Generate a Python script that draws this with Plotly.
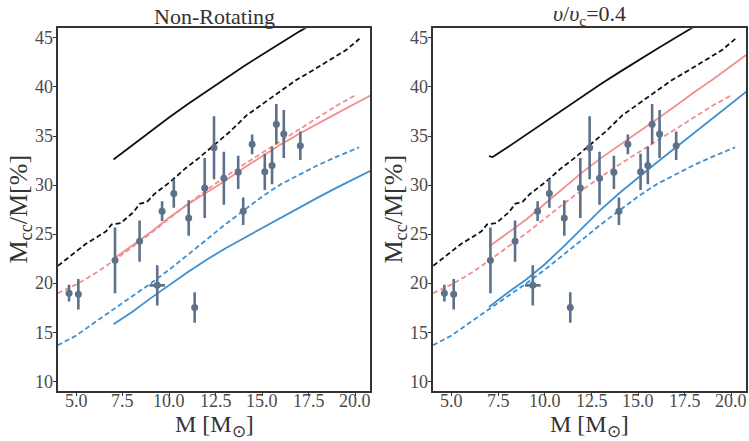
import plotly.graph_objects as go

# ---------------- data ----------------
mass_obs = [4.61, 5.11, 7.08, 8.40, 9.35, 9.61, 10.24, 11.04, 11.36, 11.90,
            12.40, 12.93, 13.70, 13.97, 14.45, 15.13, 15.52, 15.75, 16.15, 17.04]
mcc_obs = [19.0, 18.9, 22.35, 24.3, 19.8, 27.35, 29.15, 26.65, 17.55, 29.7,
           33.8, 30.7, 31.3, 27.35, 34.15, 31.35, 32.0, 36.2, 35.2, 34.0]
mcc_err = [0.85, 1.55, 3.35, 2.1, 2.05, 1.0, 1.45, 1.8, 1.55, 3.05,
           3.2, 2.7, 1.7, 1.4, 1.0, 1.85, 1.9, 2.05, 2.45, 1.45]
mass_err = [0, 0, 0, 0, 0.42, 0, 0, 0, 0, 0,
            0, 0, 0, 0, 0, 0, 0, 0, 0, 0]

# reference (dashed) curves, identical in both panels
black_dash_x = [4.02, 4.5, 5.2, 5.5, 6.1, 6.6, 6.9, 7.4, 8.1, 8.4, 8.8, 9.2, 10.06, 10.86,
                11.58, 12.29, 13.26, 14.15, 15.04, 15.93, 16.82, 17.72, 18.61, 19.5, 20.22]
black_dash_y = [21.8, 22.5, 23.6, 24.0, 24.7, 25.3, 26.0, 26.15, 27.3, 28.1, 28.3, 29.1, 30.35, 31.7,
                32.75, 33.9, 35.45, 37.1, 38.3, 39.5, 40.7, 41.7, 42.7, 43.75, 44.9]
pink_dash_x = [4.0, 5, 6, 7, 8, 9, 10, 11, 12, 13, 14, 15, 16, 17, 18, 19, 20.0]
pink_dash_y = [19.0, 19.9, 21.0, 22.3, 23.7, 25.1, 26.6, 28.1, 29.5, 30.85, 32.1, 33.3,
               34.5, 35.75, 36.95, 38.1, 39.15]
blue_dash_x = [4.0, 5, 6, 7, 8, 9, 10, 11, 12, 13, 14, 15, 16, 17, 18, 19, 20, 20.2]
blue_dash_y = [13.7, 14.7, 16.05, 17.35, 18.65, 20.0, 21.4, 22.9, 24.45, 26.0, 27.45, 28.85,
               30.1, 31.1, 32.05, 32.9, 33.7, 33.85]

# non-rotating models (solid)
solid_x = [7.0, 8, 9, 10, 11, 12, 13, 14, 15, 16, 17, 18, 19, 20, 20.9]
nr_black_y = [32.6, 34.05, 35.5, 36.9, 38.25, 39.55, 40.85, 42.1, 43.3, 44.5, 45.65, 46.75,
              47.8, 48.8, 49.7]
nr_pink_y = [22.5, 23.85, 25.2, 26.7, 28.05, 29.25, 30.45, 31.75, 32.95, 34.15, 35.25, 36.3,
             37.3, 38.3, 39.2]
nr_blue_y = [15.85, 17.1, 18.5, 19.85, 21.15, 22.4, 23.55, 24.6, 25.65, 26.7, 27.75, 28.75,
             29.75, 30.7, 31.55]

# rotating models v/vc = 0.4 (solid)
rot_black_x = [7.0, 7.2, 8, 9, 10, 11, 12, 13, 14, 15, 16, 17, 18, 19]
rot_black_y = [32.95, 32.85, 33.85, 35.15, 36.45, 37.75, 39.05, 40.3, 41.5, 42.7, 43.85,
               45.0, 46.15, 47.25]
rot_pink_y = [23.75, 25.1, 26.5, 28.1, 29.7, 31.3, 32.75, 34.05, 35.35, 36.7, 38.05, 39.45,
              40.75, 42.15, 43.4]
rot_blue_y = [17.6, 19.05, 20.4, 21.95, 23.75, 25.65, 27.5, 29.2, 30.8, 32.3, 33.8, 35.3,
              36.8, 38.3, 39.65]

titles = ["Non-Rotating", "<i>υ</i>/<i>υ</i><sub>c</sub>=0.4"]
x_ticks = [5.0, 7.5, 10.0, 12.5, 15.0, 17.5, 20.0]
x_ticktext = ["5.0", "7.5", "10.0", "12.5", "15.0", "17.5", "20.0"]
y_ticks = [10, 15, 20, 25, 30, 35, 40, 45]
y_ticktext = ["10", "15", "20", "25", "30", "35", "40", "45"]
x_label = "M [M<sub>⊙</sub>]"
y_label = "M<sub>cc</sub>/M[%]"

# ---------------- style ----------------
BLACK = "#111111"
PINK = "#f28e8e"
BLUE = "#3d8fd1"
PT = "#5d7189"
FONT = "Liberation Serif"
DASH = "5px,3px"
LW = 1.8

fig = go.Figure()

panels = [
    ("x", "y", solid_x, nr_black_y, solid_x, nr_pink_y, nr_blue_y),
    ("x2", "y2", rot_black_x, rot_black_y, solid_x, rot_pink_y, rot_blue_y),
]

for xa, ya, bx, by, sx, py_, uy in panels:
    fig.add_trace(go.Scatter(x=bx, y=by, mode="lines", line=dict(color=BLACK, width=LW),
                             xaxis=xa, yaxis=ya, showlegend=False))
    fig.add_trace(go.Scatter(x=black_dash_x, y=black_dash_y, mode="lines",
                             line=dict(color=BLACK, width=LW, dash=DASH),
                             xaxis=xa, yaxis=ya, showlegend=False))
    fig.add_trace(go.Scatter(x=pink_dash_x, y=pink_dash_y, mode="lines",
                             line=dict(color=PINK, width=LW, dash=DASH),
                             xaxis=xa, yaxis=ya, showlegend=False))
    fig.add_trace(go.Scatter(x=sx, y=py_, mode="lines", line=dict(color=PINK, width=LW),
                             xaxis=xa, yaxis=ya, showlegend=False))
    fig.add_trace(go.Scatter(x=blue_dash_x, y=blue_dash_y, mode="lines",
                             line=dict(color=BLUE, width=LW, dash=DASH),
                             xaxis=xa, yaxis=ya, showlegend=False))
    fig.add_trace(go.Scatter(x=sx, y=uy, mode="lines", line=dict(color=BLUE, width=LW),
                             xaxis=xa, yaxis=ya, showlegend=False))
    fig.add_trace(go.Scatter(
        x=mass_obs, y=mcc_obs, mode="markers",
        marker=dict(color=PT, size=7),
        error_y=dict(type="data", array=mcc_err, color=PT, thickness=2.6, width=0),
        error_x=dict(type="data", array=mass_err, color=PT, thickness=2.6, width=0),
        xaxis=xa, yaxis=ya, showlegend=False))

W, H = 749, 441
dom_x1 = [57.7 / W, 370.3 / W]
dom_x2 = [433.0 / W, 746.3 / W]
dom_y = [1 - 390.7 / H, 1 - 28.3 / H]

axis_common = dict(showline=True, mirror=True, linecolor="#333333", linewidth=2,
                   ticks="outside", ticklen=3, tickcolor="#333333", tickwidth=1,
                   showgrid=False, zeroline=False, showticklabels=False)

fig.update_layout(
    width=W, height=H,
    margin=dict(l=0, r=0, t=0, b=0),
    font=dict(family=FONT, color="#333333"),
    paper_bgcolor="white", plot_bgcolor="white",
    xaxis=dict(domain=dom_x1, range=[4.0, 20.8], tickvals=x_ticks, anchor="y", **axis_common),
    yaxis=dict(domain=dom_y, range=[9.08, 45.96], tickvals=y_ticks, anchor="x", **axis_common),
    xaxis2=dict(domain=dom_x2, range=[4.0, 20.8], tickvals=x_ticks, anchor="y2", **axis_common),
    yaxis2=dict(domain=dom_y, range=[9.08, 45.96], tickvals=y_ticks, anchor="x2", **axis_common),
)

tick_font = dict(family=FONT, size=18, color="#4a4a4a")
axes_refs = [("x", "y", "x domain", "y domain"), ("x2", "y2", "x2 domain", "y2 domain")]
for xr, yr, xdr, ydr in axes_refs:
    for v, t in zip(x_ticks, x_ticktext):
        fig.add_annotation(text=t, x=v, xref=xr, y=0, yref=ydr, yshift=-10,
                           xanchor="center", yanchor="middle", showarrow=False, font=tick_font)
    for v, t in zip(y_ticks, y_ticktext):
        fig.add_annotation(text=t, y=v, yref=yr, x=0, xref=xdr, xshift=-3,
                           xanchor="right", yanchor="middle", showarrow=False, font=tick_font)

centers = [(dom_x1[0] + dom_x1[1]) / 2, (dom_x2[0] + dom_x2[1]) / 2]
ylab_x = [19.0 / W, 394.0 / W]
for i in range(2):
    fig.add_annotation(text=titles[i], x=centers[i], y=dom_y[1], xref="paper", yref="paper",
                       xanchor="center", yanchor="bottom", yshift=-3, showarrow=False,
                       font=dict(family=FONT, size=22, color="#333333"))
    fig.add_annotation(text=x_label, x=centers[i], y=1 - 426.0 / H, xref="paper", yref="paper",
                       xanchor="center", yanchor="middle", showarrow=False,
                       font=dict(family=FONT, size=24, color="#333333"))
    fig.add_annotation(text=y_label, x=ylab_x[i], y=(dom_y[0] + dom_y[1]) / 2,
                       xref="paper", yref="paper", xanchor="center", yanchor="middle",
                       textangle=-90, showarrow=False,
                       font=dict(family=FONT, size=26, color="#333333"))

fig.write_html("out.html")
